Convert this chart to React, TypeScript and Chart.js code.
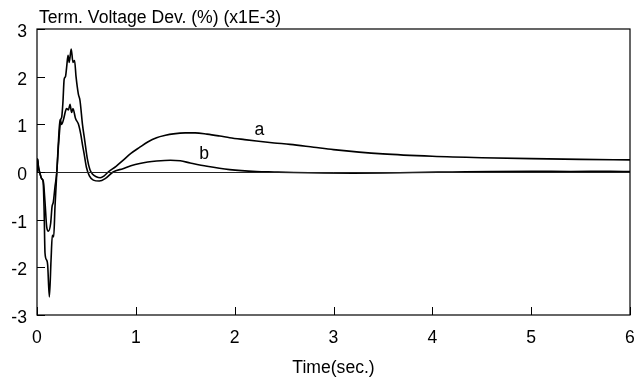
import React, { useEffect, useRef } from "react";
import { Chart, registerables } from "chart.js";

Chart.register(...registerables);

// Terminal voltage deviation (x1E-3 %) over time, two controller cases.
const timeA = [
  0, 0.006, 0.015, 0.03, 0.047, 0.062, 0.072, 0.081, 0.098, 0.108, 0.125, 0.142, 0.155, 0.169, 0.182,
  0.2, 0.216, 0.228, 0.24, 0.25, 0.262, 0.275, 0.288, 0.3, 0.314, 0.326, 0.346, 0.364, 0.38, 0.395,
  0.418, 0.435, 0.46, 0.483, 0.51, 0.535, 0.56, 0.6, 0.64, 0.68, 0.72, 0.8, 0.87, 0.95, 1.04, 1.12,
  1.21, 1.3, 1.38, 1.5, 1.6, 1.72, 1.85, 1.95, 2.1, 2.22, 2.4, 2.56, 2.8, 3.0, 3.5, 4.0, 4.5, 5.0,
  5.5, 6.0,
];
const voltA = [
  0, 0.27, 0.1, -0.03, -0.14, -0.2, -0.8, -1.7, -1.85, -1.95, -2.62, -1.85, -1.33, -1.36, -0.73,
  -0.03, 0.52, 0.85, 1.1, 1.15, 1.45, 1.95, 2.0, 2.2, 2.45, 2.3, 2.58, 2.3, 2.34, 2.0,
  1.64, 1.5, 1.0, 0.66, 0.27, 0.05, -0.04, -0.1, -0.12, -0.08, 0.0, 0.12, 0.245, 0.39, 0.52, 0.63,
  0.72, 0.77, 0.8, 0.82, 0.82, 0.795, 0.755, 0.72, 0.68, 0.65, 0.61, 0.58, 0.52, 0.47, 0.38, 0.33,
  0.3, 0.28, 0.265, 0.255,
];

const timeB = [
  0, 0.006, 0.015, 0.03, 0.047, 0.064, 0.081, 0.098, 0.115, 0.138, 0.152, 0.165, 0.182, 0.2, 0.216,
  0.233, 0.25, 0.268, 0.29, 0.3, 0.318, 0.334, 0.35, 0.364, 0.39, 0.418, 0.442, 0.462, 0.476, 0.5,
  0.53, 0.57, 0.63, 0.69, 0.77, 0.87, 0.95, 1.04, 1.12, 1.21, 1.35, 1.45, 1.55, 1.72, 1.95, 2.22,
  2.4, 2.6, 2.9, 3.2, 3.5, 3.8, 4.2, 4.6, 5.0, 5.4, 5.8, 6.0,
];
const voltB = [
  0, 0.27, 0.1, -0.03, -0.14, -0.2, -0.63, -1.15, -1.24, -1.08, -0.73, -0.63, -0.31, 0.0, 0.6,
  1.1, 1.0, 1.1, 1.29, 1.33, 1.3, 1.42, 1.25, 1.33, 1.12, 1.01, 0.8, 0.55, 0.39, 0.1,
  -0.08, -0.17, -0.19, -0.14, 0.0, 0.07, 0.13, 0.18, 0.21, 0.23, 0.245, 0.235, 0.19, 0.12, 0.05, 0.01,
  0.0, -0.01, -0.02, -0.025, -0.02, -0.01, 0.0, 0.01, 0.015, 0.01, 0.015, 0.01,
];

const curveLabels = [
  { text: "a", t: 2.25, v: 0.87 },
  { text: "b", t: 1.69, v: 0.37 },
];

const xTicks = [0, 1, 2, 3, 4, 5, 6];
const yTicks = [-3, -2, -1, 0, 1, 2, 3];

const chartTitle = "Term. Voltage Dev. (%) (x1E-3)";
const xTitle = "Time(sec.)";

const FONT_FAMILY = "'Liberation Sans', Arial, Helvetica, sans-serif";
const FONT_SIZE = 17.6;

const toPoints = (ts: number[], vs: number[]) => ts.map((t, i) => ({ x: t, y: vs[i] }));

// Frame, inward tick marks, zero line and the free-standing text.
const decorations = {
  id: "decorations",
  afterDatasetsDraw(chart: any) {
    const { ctx, chartArea, scales } = chart;
    const { left, right, top, bottom } = chartArea;
    const xs = scales.x;
    const ys = scales.y;
    ctx.save();

    // zero line
    const y0 = ys.getPixelForValue(0);
    ctx.strokeStyle = "#222";
    ctx.lineWidth = 1;
    ctx.beginPath();
    ctx.moveTo(left, Math.round(y0) + 0.5);
    ctx.lineTo(right, Math.round(y0) + 0.5);
    ctx.stroke();

    // frame
    ctx.strokeStyle = "#000";
    ctx.lineWidth = 1.2;
    ctx.strokeRect(left, top, right - left, bottom - top);

    // inward ticks
    const tl = 8;
    ctx.lineWidth = 1;
    ctx.beginPath();
    yTicks.forEach((v) => {
      const py = Math.round(ys.getPixelForValue(v)) + 0.5;
      ctx.moveTo(left, py);
      ctx.lineTo(left + tl, py);
    });
    xTicks.forEach((v) => {
      const px = Math.round(xs.getPixelForValue(v)) + 0.5;
      ctx.moveTo(px, bottom);
      ctx.lineTo(px, bottom - tl);
    });
    ctx.stroke();

    ctx.fillStyle = "#000";
    ctx.font = `${FONT_SIZE}px ${FONT_FAMILY}`;

    // chart title over the top-left of the plot
    ctx.textAlign = "left";
    ctx.textBaseline = "alphabetic";
    ctx.fillText(chartTitle, left + 2, 23);

    // x-axis title
    ctx.textAlign = "center";
    ctx.textBaseline = "middle";
    ctx.fillText(xTitle, (left + right) / 2, 368);

    // curve labels
    curveLabels.forEach((l) => {
      ctx.fillText(l.text, xs.getPixelForValue(l.t), ys.getPixelForValue(l.v));
    });

    ctx.restore();
  },
};

export default function App() {
  const canvasRef = useRef<HTMLCanvasElement>(null);

  useEffect(() => {
    const canvas = canvasRef.current;
    if (!canvas) return;
    const lineStyle = {
      borderColor: "#000",
      borderWidth: 1.6,
      pointRadius: 0,
      fill: false,
      cubicInterpolationMode: "monotone" as const,
    };
    const chart = new Chart(canvas, {
      type: "line",
      data: {
        datasets: [
          { label: "a", data: toPoints(timeA, voltA), ...lineStyle },
          { label: "b", data: toPoints(timeB, voltB), ...lineStyle },
        ],
      },
      options: {
        animation: false,
        responsive: false,
        events: [],
        layout: { padding: { top: 29, right: 6, left: 0, bottom: 0 } },
        plugins: {
          legend: { display: false },
          tooltip: { enabled: false },
          title: { display: false },
        },
        scales: {
          x: {
            type: "linear",
            min: 0,
            max: 6,
            afterFit: (s: any) => {
              s.height = 66;
              s.paddingLeft = 0;
              s.paddingRight = 0;
            },
            afterBuildTicks: (s: any) => {
              s.ticks = xTicks.map((v) => ({ value: v }));
            },
            ticks: {
              color: "#000",
              padding: 13,
              maxRotation: 0,
              font: { family: FONT_FAMILY, size: FONT_SIZE },
            },
            grid: { display: false, drawTicks: false },
            border: { display: false },
          },
          y: {
            type: "linear",
            min: -3,
            max: 3,
            afterFit: (s: any) => {
              s.width = 37;
              s.paddingTop = 0;
              s.paddingBottom = 0;
            },
            afterBuildTicks: (s: any) => {
              s.ticks = yTicks.map((v) => ({ value: v }));
            },
            ticks: {
              color: "#000",
              padding: 10,
              labelOffset: 3,
              font: { family: FONT_FAMILY, size: FONT_SIZE },
            },
            grid: { display: false, drawTicks: false },
            border: { display: false },
          },
        },
      },
      plugins: [decorations],
    });
    return () => chart.destroy();
  }, []);

  return (
    <div style={{ position: "fixed", left: 0, top: 0, width: 636, height: 381, background: "#fff" }}>
      <canvas ref={canvasRef} width={636} height={381} />
    </div>
  );
}
